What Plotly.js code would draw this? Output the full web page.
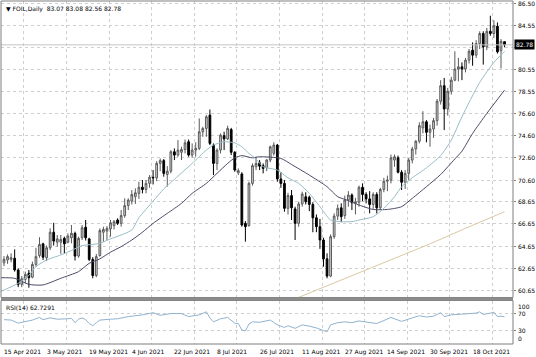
<!DOCTYPE html>
<html>
<head>
<meta charset="utf-8">
<script src="https://cdn.plot.ly/plotly-3.0.1.min.js"></script>
<style>html,body{margin:0;padding:0;background:#fff;}#chart{width:536px;height:357px;}</style>
</head>
<body>
<div id="chart"></div>
<script>
// ---- data ----
const dates = [
'2021-04-15','2021-04-16','2021-04-19','2021-04-20','2021-04-21','2021-04-22','2021-04-23','2021-04-26','2021-04-27','2021-04-28','2021-04-29','2021-04-30',
'2021-05-03','2021-05-04','2021-05-05','2021-05-06','2021-05-07','2021-05-10','2021-05-11','2021-05-12','2021-05-13','2021-05-14','2021-05-17','2021-05-18','2021-05-19','2021-05-20','2021-05-21','2021-05-24','2021-05-25','2021-05-26','2021-05-27','2021-05-28','2021-05-31',
'2021-06-01','2021-06-02','2021-06-03','2021-06-04','2021-06-07','2021-06-08','2021-06-09','2021-06-10','2021-06-11','2021-06-14','2021-06-15','2021-06-16','2021-06-17','2021-06-18','2021-06-21','2021-06-22','2021-06-23','2021-06-24','2021-06-25','2021-06-28','2021-06-29','2021-06-30',
'2021-07-01','2021-07-02','2021-07-05','2021-07-06','2021-07-07','2021-07-08','2021-07-09','2021-07-12','2021-07-13','2021-07-14','2021-07-15','2021-07-16','2021-07-19','2021-07-20','2021-07-21','2021-07-22','2021-07-23','2021-07-26','2021-07-27','2021-07-28','2021-07-29','2021-07-30',
'2021-08-02','2021-08-03','2021-08-04','2021-08-05','2021-08-06','2021-08-09','2021-08-10','2021-08-11','2021-08-12','2021-08-13','2021-08-16','2021-08-17','2021-08-18','2021-08-19','2021-08-20','2021-08-23','2021-08-24','2021-08-25','2021-08-26','2021-08-27','2021-08-30','2021-08-31',
'2021-09-01','2021-09-02','2021-09-03','2021-09-06','2021-09-07','2021-09-08','2021-09-09','2021-09-10','2021-09-13','2021-09-14','2021-09-15','2021-09-16','2021-09-17','2021-09-20','2021-09-21','2021-09-22','2021-09-23','2021-09-24','2021-09-27','2021-09-28','2021-09-29','2021-09-30',
'2021-10-01','2021-10-04','2021-10-05','2021-10-06','2021-10-07','2021-10-08','2021-10-11','2021-10-12','2021-10-13','2021-10-14','2021-10-15','2021-10-18','2021-10-19','2021-10-20','2021-10-21','2021-10-22','2021-10-25','2021-10-26','2021-10-27','2021-10-28','2021-10-29'
];
const open = [
63.15,63.40,63.45,63.55,62.50,61.20,61.65,62.20,61.85,63.00,63.80,64.85,
63.60,64.50,65.90,65.00,65.00,65.35,65.00,65.40,65.80,63.75,65.40,66.35,65.30,63.45,62.00,63.80,65.90,66.00,66.20,66.50,67.00,
66.70,67.40,68.30,68.70,69.10,69.40,69.95,69.75,70.30,70.85,70.80,72.10,72.35,71.10,71.40,73.15,72.85,73.10,73.35,74.05,72.85,73.30,
73.45,74.95,75.25,76.45,73.75,72.10,73.30,74.60,74.30,75.15,73.10,71.25,71.15,66.70,66.50,70.30,71.80,72.15,71.90,71.70,72.40,73.00,
73.75,70.70,70.30,68.05,69.20,68.00,66.70,68.45,69.10,69.05,68.40,67.20,66.40,65.20,63.50,61.95,65.50,67.35,68.10,67.40,68.80,69.25,
68.50,68.60,69.95,69.30,68.90,68.40,69.30,68.10,69.75,70.50,70.60,72.40,72.60,71.30,70.40,71.20,72.40,73.40,74.10,75.30,75.85,74.90,
75.20,75.95,77.70,79.10,77.00,78.60,79.60,80.60,80.80,80.60,81.40,82.30,81.85,82.90,83.80,82.60,84.00,83.80,84.45,82.25,83.07
];
const high = [
63.75,63.90,64.00,64.35,62.65,61.95,62.35,62.50,63.25,64.50,65.45,64.95,
64.70,66.25,66.75,65.65,65.65,65.50,65.80,66.55,65.95,65.50,66.55,67.00,65.40,63.65,63.95,66.25,66.40,66.45,67.00,67.00,67.15,
67.90,68.95,68.95,69.70,69.85,70.45,70.60,70.60,71.05,71.50,72.30,72.55,72.50,71.85,73.30,73.45,74.20,73.60,74.25,74.25,73.90,74.00,
76.15,75.40,76.45,76.95,73.90,73.45,74.80,74.95,75.50,75.30,73.20,71.65,71.30,66.90,70.45,72.10,72.70,72.40,72.10,72.50,73.70,74.00,
73.85,71.30,70.60,69.45,69.70,68.20,68.65,69.55,69.50,69.20,68.60,67.50,67.10,65.40,64.00,65.70,67.60,68.40,68.50,69.20,69.60,69.40,
69.00,70.10,70.30,69.50,69.60,69.50,69.50,69.90,70.80,71.00,72.90,72.90,72.80,71.50,71.50,72.60,73.60,74.20,75.80,76.80,76.00,75.60,
76.20,77.90,79.60,79.80,78.90,79.90,82.20,81.60,81.20,81.60,82.40,83.00,83.20,84.00,84.00,84.30,85.40,85.00,84.80,83.30,83.08
];
const low = [
62.85,63.05,63.20,62.35,60.95,60.95,61.30,60.90,61.75,62.80,63.60,63.40,
63.30,64.30,64.70,64.60,63.95,63.95,64.90,64.90,63.35,63.60,65.20,65.15,63.30,61.75,61.85,63.70,65.05,65.20,65.50,66.15,66.55,
66.40,67.20,67.90,68.40,68.45,68.90,69.40,69.40,69.90,70.20,70.50,71.40,70.90,70.00,71.20,72.40,72.70,72.40,73.00,72.70,72.60,72.70,
73.30,74.50,74.50,73.75,71.05,71.50,73.00,73.30,74.20,72.85,71.35,71.05,66.40,65.05,66.40,70.10,71.50,71.50,71.20,71.40,72.20,72.80,
70.45,69.90,67.75,67.50,67.00,65.20,66.40,68.20,68.40,67.80,65.90,65.90,64.40,62.80,61.75,61.85,65.30,67.00,66.80,67.10,68.20,67.90,
67.50,68.20,68.70,68.50,67.60,68.00,67.60,67.90,69.50,69.60,70.30,71.80,71.20,69.70,69.80,70.60,72.10,72.90,73.90,74.80,74.00,73.60,
74.40,75.50,77.40,75.10,76.40,78.30,79.50,79.50,79.60,80.30,81.10,80.90,81.60,82.40,81.00,82.30,83.60,83.40,82.00,80.65,82.56
];
const close = [
63.46,63.70,63.60,62.50,61.20,61.70,62.10,61.80,63.00,63.70,64.80,63.65,
64.50,65.90,65.10,65.30,65.25,64.85,65.55,65.80,63.75,65.35,66.30,65.40,63.45,62.00,63.70,66.05,66.15,66.25,66.75,66.85,66.70,
67.40,68.30,68.80,69.30,69.45,69.95,69.75,70.30,70.85,70.80,72.10,72.35,71.20,71.40,73.15,72.85,73.30,73.35,73.95,72.85,73.30,73.45,
74.95,75.25,76.30,73.90,72.10,73.30,74.65,74.30,75.25,73.10,71.50,71.45,66.55,66.40,70.30,71.90,72.10,71.85,71.65,72.40,73.60,73.75,
70.70,70.30,68.05,69.20,68.10,66.70,68.45,69.35,68.65,68.40,67.20,66.40,65.20,63.50,61.95,65.50,67.35,68.05,67.30,68.80,69.25,68.55,
68.65,69.95,69.30,68.90,68.40,69.30,68.10,69.75,70.50,70.60,72.60,72.70,71.30,70.40,71.20,72.40,73.40,74.10,75.50,75.85,74.90,75.20,
75.95,77.70,79.10,77.00,78.60,79.60,80.60,80.80,80.60,81.40,82.20,81.85,82.90,83.80,82.60,84.00,83.80,84.50,82.15,83.10,82.78
];
// moving averages, read at sampled bars (bar number, value)
const fastMaBar = [-1,4,7,9,12,16,19,22,25,27,30,33,36,38,42,45,49,53,57,59,62,65,67,69,71,73,77,80,83,86,89,92,95,98,100,104,107,110,112,115,119,123,126,129,134,138,141];
const fastMaVal = [60.55,61.3,62.0,62.8,63.4,63.85,64.25,64.7,64.8,64.9,65.3,65.65,66.1,67.2,68.7,69.8,70.95,72.1,73.3,73.75,74.05,73.95,73.6,73.0,72.5,71.8,71.5,70.8,70.3,69.4,68.2,67.0,66.85,66.85,67.0,67.3,68.05,69.1,70.0,70.8,71.7,72.8,74.2,76.3,79.4,81.2,82.2];
const slowMaBar = [-1,3,7,11,16,21,24,27,30,33,36,39,42,46,50,53,57,60,63,65,67,70,72,78,81,86,91,94,97,100,104,108,112,115,119,123,127,129,132,136,141];
const slowMaVal = [61.8,61.75,61.2,61.15,61.75,62.35,63.1,63.5,64.1,64.6,65.2,65.9,66.7,67.6,68.5,69.4,70.3,71.2,72.1,72.6,72.8,72.6,72.7,72.55,72.0,71.05,70.0,69.1,68.75,68.35,67.95,67.95,68.2,68.95,70.0,71.1,72.5,73.2,74.8,76.6,78.7];
const longMaBar = [82,90,100,110,120,130,141];
const longMaVal = [59.9,60.95,62.25,63.55,64.85,66.25,67.75];
const rsiBar = [0,2,4,6,8,10,11,13,15,18,19,20,21,22,23,24,25,26,27,30,32,35,37,39,42,44,47,50,52,55,57,58,59,61,63,64,65,66,67,68,69,70,72,75,77,79,80,82,84,86,88,90,91,92,94,96,98,100,103,105,107,109,111,112,115,117,119,121,123,124,126,128,131,133,134,135,137,138,139,140,141];
const rsiVal = [56,55,48,52,55,61,56,60,57,58,59,49,57,60,56,47,42,49,55,57,58,63,65,67,72,66,70,70,63,67,74,60,51,58,61,54,48,47,32,30,46,51,50,55,44,38,42,36,44,41,37,31,28,44,49,51,49,53,49,47,54,61,55,52,60,65,62,64,72,63,67,68,70,71,74,68,71,73,63,64,62.73];
const tickDates = ['2021-04-15','2021-05-03','2021-05-19','2021-06-04','2021-06-22','2021-07-08','2021-07-26','2021-08-11','2021-08-27','2021-09-14','2021-09-30','2021-10-18'];
const tickLabels = ['15 Apr 2021','3 May 2021','19 May 2021','4 Jun 2021','22 Jun 2021','8 Jul 2021','26 Jul 2021','11 Aug 2021','27 Aug 2021','14 Sep 2021','30 Sep 2021','18 Oct 2021'];
const priceTicks = [86.50,84.55,82.55,80.55,78.55,76.60,74.60,72.60,70.60,68.65,66.65,64.65,62.65,60.65];
const priceTickText = ['86.50','84.55','','80.55','78.55','76.60','74.60','72.60','70.60','68.65','66.65','64.65','62.65','60.65'];
const rsiTicks = [100,70,30,0];
const rsiTickText = ['100','70','30','0'];
const lastPrice = 82.78;
const header = 'FOIL,Daily  83.07 83.08 82.56 82.78';
const rsiTitle = 'RSI(14) 62.7291';

// ---- drawing ----
const bars = dates.map((d, i) => i);
const tickIdx = tickDates.map(d => dates.indexOf(d));
const gridOffset = 5.6;            // vertical grid sits to the right of each dated bar
const F = 'DejaVu Sans, Verdana, sans-serif';
const GRID = '#cfcfcf';
const FRAME = '#7f7f7f';
const mainBottom = 0.1356, rsiTop = 0.1268;
const txt = {family:F, size:6, color:'#000'};

const traces = [
  {type:'scatter', mode:'lines', x:longMaBar, y:longMaVal, xaxis:'x', yaxis:'y', line:{color:'#d9c9a3', width:1}, hoverinfo:'skip'},
  {type:'scatter', mode:'lines', x:slowMaBar, y:slowMaVal, xaxis:'x', yaxis:'y', line:{color:'#4a4a66', width:1, shape:'spline', smoothing:0.6}, hoverinfo:'skip'},
  {type:'scatter', mode:'lines', x:fastMaBar, y:fastMaVal, xaxis:'x', yaxis:'y', line:{color:'#98bcc6', width:1, shape:'spline', smoothing:0.6}, hoverinfo:'skip'},
  {type:'candlestick', x:bars, open:open, high:high, low:low, close:close, xaxis:'x', yaxis:'y',
   increasing:{line:{color:'#5a5a5a', width:1}, fillcolor:'#d6d6d6'},
   decreasing:{line:{color:'#000000', width:1}, fillcolor:'#000000'},
   whiskerwidth:0, hoverinfo:'skip'},
  {type:'scatter', mode:'lines', x:rsiBar, y:rsiVal, xaxis:'x', yaxis:'y2', line:{color:'#8fb2cf', width:1}, hoverinfo:'skip'}
];

const annotations = [
  {xref:'paper', yref:'paper', x:0, y:1, xanchor:'left', yanchor:'top', xshift:3, yshift:-2, showarrow:false, text:'▼ ' + header, font:txt},
  {xref:'paper', yref:'paper', x:0, y:rsiTop, xanchor:'left', yanchor:'top', xshift:3, yshift:-1, showarrow:false, text:rsiTitle, font:txt},
  {xref:'paper', yref:'y', x:1, y:lastPrice, xanchor:'left', yanchor:'middle', xshift:1, showarrow:false,
   text:lastPrice.toFixed(2), bgcolor:'#000', borderpad:1, font:{family:F, size:6, color:'#fff'}}
];
priceTicks.forEach((v, k) => { if (priceTickText[k]) annotations.push(
  {xref:'paper', yref:'y', x:1, y:v, xanchor:'left', yanchor:'middle', xshift:3, showarrow:false, text:priceTickText[k], font:txt}); });
rsiTicks.forEach((v, k) => annotations.push(
  {xref:'paper', yref:'y2', x:1, y:v, xanchor:'left', yanchor: v === 100 ? 'top' : (v === 0 ? 'bottom' : 'middle'), xshift:3, showarrow:false, text:rsiTickText[k], font:txt}));
tickIdx.forEach((v, k) => annotations.push(
  {xref:'x', yref:'paper', x:v, y:0, xanchor:'left', yanchor:'top', xshift:-2, yshift:-2, showarrow:false, text:tickLabels[k], font:txt}));

const layout = {
  width:536, height:357,
  margin:{l:1, r:23, t:1, b:13, pad:0},
  paper_bgcolor:'#ffffff', plot_bgcolor:'#ffffff',
  showlegend:false,
  font:txt,
  xaxis:{domain:[0,1], range:[-0.845,143.38], anchor:'y2', tickmode:'array', tickvals:tickIdx.map(v => v + gridOffset),
         showticklabels:false, ticks:'', showgrid:true, gridcolor:GRID, griddash:'dot', gridwidth:1,
         zeroline:false, showline:false, rangeslider:{visible:false}, fixedrange:true},
  yaxis:{domain:[mainBottom,1], range:[60.02,86.73], side:'right', anchor:'x', tickmode:'array', tickvals:priceTicks,
         showticklabels:false, showgrid:true, gridcolor:GRID, griddash:'dot', gridwidth:1, zeroline:false,
         ticks:'outside', ticklen:2, tickcolor:FRAME, showline:false, fixedrange:true},
  yaxis2:{domain:[0,rsiTop], range:[0,100], side:'right', anchor:'x', tickmode:'array', tickvals:[70,30],
         showticklabels:false, showgrid:true, gridcolor:GRID, griddash:'dot', gridwidth:1, zeroline:false,
         ticks:'outside', ticklen:2, tickcolor:FRAME, showline:false, fixedrange:true},
  shapes:[
    {type:'line', xref:'paper', yref:'y', x0:0, x1:1, y0:lastPrice, y1:lastPrice, line:{color:'#c4c4c4', width:1}},
    {type:'rect', xref:'paper', yref:'paper', x0:0, x1:1, y0:mainBottom, y1:1, line:{color:FRAME, width:1}},
    {type:'rect', xref:'paper', yref:'paper', x0:0, x1:1, y0:0, y1:rsiTop, line:{color:FRAME, width:1}},
    {type:'rect', xref:'paper', yref:'paper', x0:0, x1:1, y0:rsiTop, y1:mainBottom, fillcolor:'#8c8c8c', line:{width:0}}
  ],
  annotations:annotations
};

Plotly.newPlot('chart', traces, layout, {staticPlot:true, displayModeBar:false});
</script>
</body>
</html>
